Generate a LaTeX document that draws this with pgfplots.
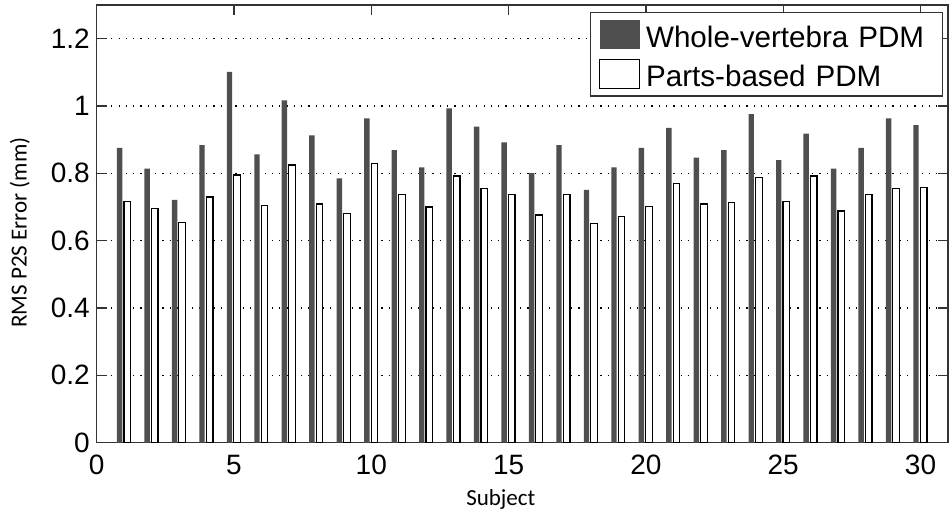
\documentclass[border=0pt]{standalone}
\usepackage{fontspec}
\setmainfont{Liberation Sans}
\newfontfamily\labelfont{Carlito}
\usepackage{pgfplots}
\usepackage{pgfplotstable}
\pgfplotsset{compat=1.18}
\definecolor{barcol}{gray}{0.31}
\definecolor{axcol}{gray}{0.2}
\pgfplotstableread{
s d w
1 0.876 0.716
2 0.814 0.696
3 0.721 0.654
4 0.884 0.730
5 1.101 0.795
6 0.856 0.705
7 1.017 0.825
8 0.913 0.709
9 0.785 0.680
10 0.963 0.829
11 0.869 0.737
12 0.818 0.700
13 0.993 0.792
14 0.939 0.754
15 0.892 0.737
16 0.801 0.676
17 0.884 0.737
18 0.751 0.651
19 0.818 0.671
20 0.876 0.701
21 0.935 0.771
22 0.847 0.709
23 0.869 0.713
24 0.976 0.788
25 0.839 0.716
26 0.918 0.792
27 0.814 0.688
28 0.876 0.737
29 0.963 0.754
30 0.943 0.758
}\datatable
\begin{document}
\begin{tikzpicture}
\path[use as bounding box] (-48.35pt,-35.15pt) rectangle (426.15pt,221.35pt);
\begin{axis}[
  at={(0,0)}, anchor=south west,
  scale only axis, width=425.65pt, height=218.85pt,
  xmin=0, xmax=31, ymin=0, ymax=1.3,
  xtick={0,5,10,15,20,25,30},
  ytick={0,0.2,0.4,0.6,0.8,1,1.2},
  tick align=inside, tick pos=both, major tick length=5pt,
  axis line style={axcol, line width=0.65pt},
  every tick/.style={axcol, line width=0.65pt},
  ymajorgrids,
  major grid style={black, line width=0.6pt, dash pattern=on 0.6pt off 3.05pt},
  /pgf/number format/assume math mode=true,
  ticklabel style={font=\fontsize{14}{16}\selectfont, inner sep=0pt},
  yticklabel style={xshift=-3.3pt},
  xticklabel style={yshift=-6pt},
  xlabel={Subject}, ylabel={RMS P2S Error (mm)},
  label style={font=\labelfont\fontsize{11.5}{13}\selectfont},
  xlabel style={at={(axis description cs:0.4747,-0.1446)}, anchor=base},
  ylabel style={at={(axis description cs:-0.0822,0.48)}, anchor=base},
  legend cell align=left,
  legend style={at={(axis description cs:1,1)}, anchor=north east,
    xshift=-2.65pt, yshift=-3.65pt, draw=axcol, line width=0.6pt,
    inner xsep=4.5pt, inner ysep=3.6pt, row sep=4.75pt,
    font=\fontsize{14.8}{16}\selectfont,
    nodes={inner sep=0pt, text height=13.5pt, text depth=1pt, text width=143.5pt, align=left},
    /tikz/every odd column/.append style={column sep=2.85pt}},
]
\addplot[ybar, bar width=0.197, bar shift=-0.164, fill=barcol, draw=none,
  legend image code/.code={\fill[barcol] (0pt,-7.25pt) rectangle (20pt,7.25pt);}]
  table[x=s, y=d] {\datatable};
\addlegendentry{Whole-vertebra PDM}
\addplot[ybar, bar width=0.24, bar shift=0.113, fill=white, draw=black, line width=0.6pt,
  legend image code/.code={\draw[black, line width=0.6pt, fill=white] (0pt,-7.25pt) rectangle (20pt,7.25pt);}]
  table[x=s, y=w] {\datatable};
\addlegendentry{Parts-based PDM}
\end{axis}
\end{tikzpicture}
\end{document}
